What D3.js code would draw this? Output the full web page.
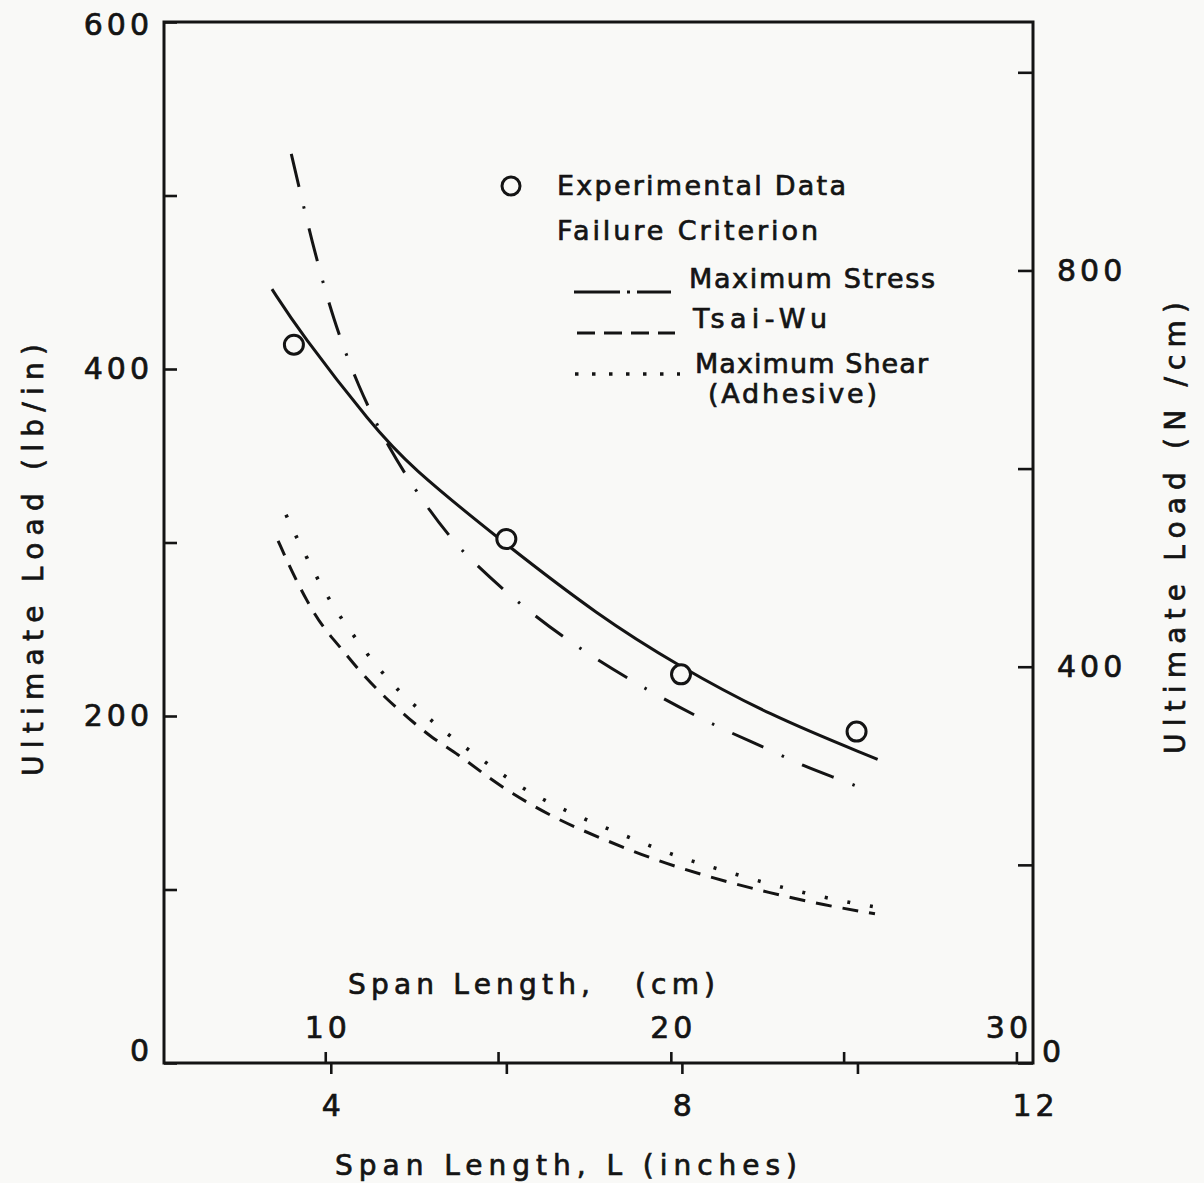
<!DOCTYPE html>
<html>
<head>
<meta charset="utf-8">
<script src="https://cdn.jsdelivr.net/npm/d3@7"></script>
<style>
  body { margin: 0; background: #f9f9f7; }
  svg text { font-family: "DejaVu Sans", sans-serif; fill: #141414; stroke: #141414; stroke-width: 0.7px; }
</style>
</head>
<body>
<div id="chart"></div>
<script>
/**
 * DATA (span in inches, load in lb/in)
 * */
const expSpan = [3.58, 6.0, 7.99, 9.99];
const expLoad = [414, 302, 224, 191];

// solid curve, not in the legend
const solidSpan = [3.33, 3.65, 4.48, 4.90, 5.89, 7.07, 7.96, 8.97, 10.23];
const solidLoad = [446, 421, 367, 344, 303, 257, 229, 201, 175];

const maxStressSpan = [3.55, 3.79, 4.03, 4.31, 4.65, 5.07, 5.36, 5.61, 6.25, 6.94, 7.64, 8.16, 8.57, 8.98, 9.39, 9.77, 10.17];
const maxStressLoad = [524, 472, 428, 390, 355, 322, 303, 289, 260, 235, 214, 200, 190, 181, 171, 164, 156];

const tsaiWuSpan = [3.40, 3.55, 3.73, 3.91, 4.12, 4.34, 4.63, 4.88, 5.16, 5.45, 5.73, 6.04, 6.55, 7.10, 7.69, 8.32, 9.00, 9.62, 10.20];
const tsaiWuLoad = [301, 284, 266, 251, 239, 225, 210, 199, 187, 178, 167, 156, 141, 129, 117, 107, 98, 91, 86];

const shearSpan = [3.49, 3.60, 3.73, 3.87, 4.01, 4.15, 4.31, 4.47, 4.64, 4.82, 5.05, 5.24, 5.53, 5.85, 6.22, 6.61, 7.01, 7.45, 7.94, 8.40, 8.93, 9.40, 9.85, 10.20];
const shearLoad = [316, 304, 291, 277, 265, 254, 243, 232, 222, 212, 202, 193, 182, 170, 157, 147, 138, 129, 119, 112, 104, 98, 93, 90];

// axis ticks
const inchTicks = [4, 6, 8, 10, 12];
const cmTicks = [10, 15, 20, 25, 30];
const lbTicks = [0, 100, 200, 300, 400, 500, 600];
const nTicks = [0, 200, 400, 600, 800, 1000];

const LB_TO_N = 1.7513; // lb/in -> N/cm

/**
 * CONSTANTS
 * */
const width = 1204,
  height = 1183,
  ink = "#141414",
  paper = "#f9f9f7";

const x = d3.scaleLinear().domain([2.1, 12]).range([164, 1033]);
const xCm = d3.scaleLinear().domain([2.1 * 2.54, 12 * 2.54]).range([164, 1033]);
const y = d3.scaleLinear().domain([0, 600]).range([1063, 22]);
const yN = d3.scaleLinear().domain([0, 600 * LB_TO_N]).range([1063, 22]);

const svg = d3.select("#chart")
  .append("svg")
  .attr("width", width)
  .attr("height", height);

// frame
svg.append("rect")
  .attr("x", x(2.1))
  .attr("y", y(600))
  .attr("width", x(12) - x(2.1))
  .attr("height", y(0) - y(600))
  .attr("fill", "none")
  .attr("stroke", ink)
  .attr("stroke-width", 3);

function styleAxis(g) {
  g.select(".domain").remove();
  g.selectAll(".tick line").attr("stroke", ink).attr("stroke-width", 2.6);
  g.selectAll(".tick text")
    .attr("fill", ink)
    .style("font-size", "30px")
    .style("letter-spacing", "4px");
}

// left axis (lb/in)
svg.append("g")
  .attr("transform", `translate(${x(2.1)},0)`)
  .call(d3.axisLeft(y).tickValues(lbTicks).tickSizeInner(-13).tickSizeOuter(0)
    .tickPadding(11).tickFormat(d => d % 200 ? "" : d))
  .call(styleAxis)
  .call(g => g.selectAll(".tick text").attr("dy", d => d === 0 ? "-0.1em" : d === 600 ? "0.42em" : "0.32em"));

// right axis (N/cm)
svg.append("g")
  .attr("transform", `translate(${x(12)},0)`)
  .call(d3.axisRight(yN).tickValues(nTicks).tickSizeInner(-15).tickSizeOuter(0)
    .tickPadding(24).tickFormat(d => d % 400 ? "" : d))
  .call(styleAxis)
  .call(g => g.selectAll(".tick text")
    .attr("x", d => d === 0 ? 9 : 24)
    .attr("dy", d => d === 0 ? "-0.05em" : "0.32em"));

// bottom axis, inches (ticks outward)
svg.append("g")
  .attr("transform", `translate(0,${y(0)})`)
  .call(d3.axisBottom(x).tickValues(inchTicks).tickSizeInner(11).tickSizeOuter(0)
    .tickPadding(21).tickFormat(d => d % 4 ? "" : d))
  .call(styleAxis)
  .call(g => g.selectAll(".tick").filter(d => d === 12).select("line").remove())
  .call(g => g.selectAll(".tick text").attr("dx", "2px"));

// bottom axis, cm (ticks inward)
svg.append("g")
  .attr("transform", `translate(0,${y(0)})`)
  .call(d3.axisTop(xCm).tickValues(cmTicks).tickSizeInner(11).tickSizeOuter(0)
    .tickPadding(14).tickFormat(d => d % 10 ? "" : d))
  .call(styleAxis)
  .call(g => g.selectAll(".tick text").attr("dx", d => d === 30 ? -8 : 2));

// axis titles
const title = (txt, tx, ty, len, rot) => svg.append("text")
  .attr("transform", `translate(${tx},${ty})` + (rot ? ` rotate(${rot})` : ""))
  .attr("text-anchor", "middle")
  .attr("textLength", len)
  .attr("lengthAdjust", "spacing")
  .style("font-size", "28px")
  .text(txt);

title("Span Length, L  (inches)", 566, 1175, 462);
title("Span Length,", 469, 994, 242);
title("(cm)", 675, 994, 80);
title("Ultimate Load  (lb/in)", 43, 560, 432, -90);
title("Ultimate Load  (N /cm)", 1185, 528, 452, -90);

/**
 * CURVES
 * */
const line = d3.line().x(d => x(d[0])).y(d => y(d[1])).curve(d3.curveBasis);

const series = [
  { span: solidSpan, load: solidLoad, dash: null, w: 3 },
  { span: maxStressSpan, load: maxStressLoad, dash: "34,20,2.5,20", w: 3 },
  { span: tsaiWuSpan, load: tsaiWuLoad, dash: "16,11", w: 3 },
  { span: shearSpan, load: shearLoad, dash: "3,20", w: 3.6 },
];

svg.selectAll(".curve")
  .data(series)
  .join("path")
  .attr("class", "curve")
  .attr("d", s => line(d3.zip(s.span, s.load)))
  .attr("fill", "none")
  .attr("stroke", ink)
  .attr("stroke-width", s => s.w)
  .attr("stroke-dasharray", s => s.dash);

svg.selectAll(".pt")
  .data(d3.zip(expSpan, expLoad))
  .join("circle")
  .attr("class", "pt")
  .attr("cx", d => x(d[0]))
  .attr("cy", d => y(d[1]))
  .attr("r", 9.5)
  .attr("fill", paper)
  .attr("stroke", ink)
  .attr("stroke-width", 3);

/**
 * LEGEND
 * */
const legend = svg.append("g");
legend.append("circle")
  .attr("cx", 511).attr("cy", 186).attr("r", 9)
  .attr("fill", "none").attr("stroke", ink).attr("stroke-width", 3);

const legText = (txt, lx, ly, len) => legend.append("text")
  .attr("x", lx).attr("y", ly)
  .attr("textLength", len)
  .attr("lengthAdjust", "spacing")
  .style("font-size", "27px")
  .text(txt);

legText("Experimental Data", 557, 195, 289);
legText("Failure Criterion", 557, 240, 261);
legText("Maximum Stress", 689, 288, 246);
legText("Tsai-Wu", 693, 328, 134);
legText("Maximum Shear", 695, 373, 233);
legText("(Adhesive)", 708, 403, 169);

const legLines = [
  { y: 292, x0: 574, x1: 671, dash: "46,7,3,7,46", w: 3 },
  { y: 333, x0: 577, x1: 675, dash: "18,9", w: 3 },
  { y: 374, x0: 575, x1: 680, dash: "3.5,13.5", w: 3.6 },
];
legend.selectAll(".legline")
  .data(legLines)
  .join("line")
  .attr("x1", d => d.x0).attr("x2", d => d.x1)
  .attr("y1", d => d.y).attr("y2", d => d.y)
  .attr("stroke", ink)
  .attr("stroke-width", d => d.w)
  .attr("stroke-dasharray", d => d.dash);
</script>
</body>
</html>
